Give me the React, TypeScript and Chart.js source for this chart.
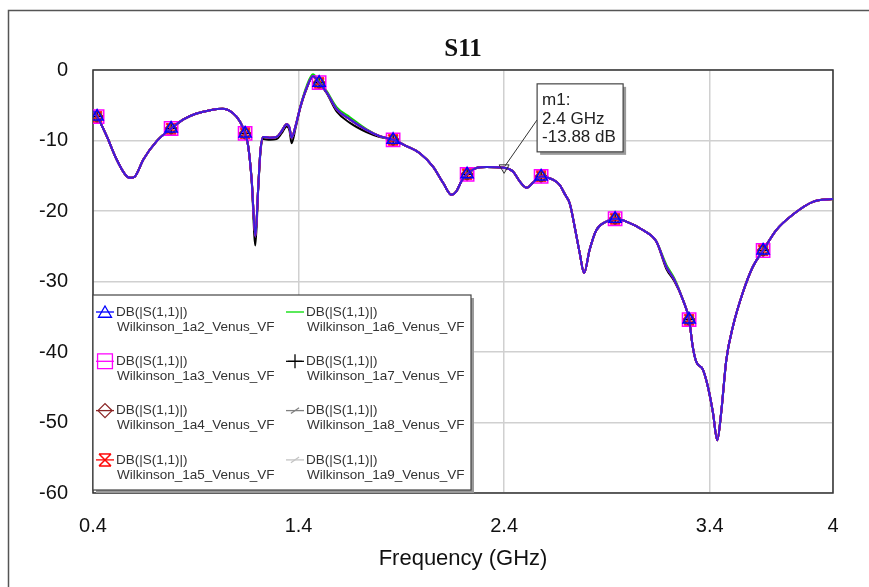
import React, { useEffect, useRef } from 'react';
import { Chart, registerables } from 'chart.js';
import { drawPoint } from 'chart.js/helpers';

Chart.register(...registerables);

// ---- data ----
const freqs = [
  0.40, 0.42, 0.467, 0.515, 0.556, 0.58, 0.604, 0.645, 0.71, 0.78,
  0.84, 0.90, 0.97, 1.03, 1.08, 1.115, 1.14, 1.155, 1.172, 1.19,
  1.204, 1.215, 1.228, 1.26, 1.293, 1.317, 1.342, 1.356, 1.366, 1.385,
  1.41, 1.44, 1.47, 1.50, 1.537, 1.586, 1.65, 1.73, 1.795, 1.86,
  1.925, 1.99, 2.054, 2.103, 2.144, 2.168, 2.192, 2.22, 2.265, 2.314,
  2.40, 2.443, 2.476, 2.51, 2.54, 2.58, 2.64, 2.67, 2.695, 2.72,
  2.743, 2.768, 2.789, 2.816, 2.849, 2.897, 2.94, 2.995, 3.075, 3.14,
  3.189, 3.229, 3.27, 3.30, 3.318, 3.335, 3.367, 3.392, 3.416, 3.437,
  3.456, 3.481, 3.513, 3.561, 3.61, 3.66, 3.724, 3.805, 3.902, 4.0,
];

const s11Main = [
  -5.8, -6.6, -9.4, -12.7, -14.8, -15.3, -15.1, -12.7, -10.1, -8.3,
  -7.0, -6.2, -5.7, -5.5, -6.1, -7.3, -9.0, -10.8, -15.6, -23.6,
  -16.5, -11.3, -9.5, -9.6, -9.5, -8.7, -7.7, -8.2, -9.6, -8.0,
  -5.1, -2.5, -0.9, -1.8, -3.2, -5.6, -7.0, -8.5, -9.4, -9.9,
  -10.8, -11.8, -13.7, -16.0, -17.7, -17.2, -15.8, -14.8, -13.9, -13.75,
  -13.88, -14.4, -15.8, -16.7, -16.0, -15.1, -15.6, -16.3, -17.6, -19.0,
  -22.2, -26.0, -28.8, -25.5, -22.7, -21.5, -21.1, -21.5, -22.7, -24.3,
  -27.9, -29.8, -32.6, -35.4, -39.3, -41.4, -42.5, -45.0, -48.6, -52.5,
  -48.6, -41.1, -36.4, -31.6, -27.9, -25.6, -22.7, -20.5, -18.7, -18.3,
];

const s11Green = [
  -5.8, -6.6, -9.4, -12.7, -14.8, -15.3, -15.1, -12.7, -10.1, -8.3,
  -7.0, -6.2, -5.7, -5.5, -6.1, -7.3, -9.0, -10.8, -15.6, -23.6,
  -16.5, -11.3, -9.5, -9.6, -9.5, -8.7, -7.7, -8.2, -9.6, -8.0,
  -5.0, -2.2, -0.6, -1.6, -3.0, -5.3, -6.7, -8.4, -9.4, -9.9,
  -10.8, -11.8, -13.7, -16.0, -17.7, -17.2, -15.8, -14.8, -13.9, -13.75,
  -13.88, -14.4, -15.8, -16.7, -16.0, -15.1, -15.6, -16.3, -17.6, -19.0,
  -22.2, -26.0, -28.8, -25.5, -22.7, -21.5, -21.1, -21.5, -22.7, -24.3,
  -27.6, -29.6, -32.6, -35.4, -39.3, -41.4, -42.5, -45.0, -48.6, -52.5,
  -48.6, -41.1, -36.4, -31.6, -27.9, -25.6, -22.7, -20.5, -18.7, -18.3,
];

const s11Black = [
  -5.8, -6.6, -9.4, -12.7, -14.8, -15.3, -15.1, -12.7, -10.1, -8.3,
  -7.0, -6.2, -5.7, -5.5, -6.1, -7.3, -9.0, -10.8, -15.8, -24.9,
  -16.8, -11.6, -9.8, -9.9, -9.8, -9.0, -8.0, -8.6, -10.4, -8.3,
  -5.2, -2.6, -0.9, -1.8, -3.3, -5.9, -7.5, -8.8, -9.5, -9.9,
  -10.8, -11.8, -13.7, -16.0, -17.7, -17.2, -15.8, -14.8, -13.9, -13.75,
  -13.88, -14.4, -15.8, -16.7, -16.0, -15.1, -15.6, -16.3, -17.6, -19.0,
  -22.2, -26.0, -28.8, -25.5, -22.7, -21.5, -21.1, -21.5, -22.7, -24.3,
  -28.2, -30.0, -32.6, -35.4, -39.3, -41.4, -42.5, -45.0, -48.6, -52.5,
  -48.6, -41.1, -36.4, -31.6, -27.9, -25.6, -22.7, -20.5, -18.7, -18.3,
];

const markerFreqs = [0.42, 0.78, 1.14, 1.5, 1.86, 2.22, 2.58, 2.94, 3.3, 3.66];
const xTickValues = [0.4, 1.4, 2.4, 3.4, 4];
const yTickValues = [0, -10, -20, -30, -40, -50, -60];

const chartTitle = 'S11';
const xAxisTitle = 'Frequency (GHz)';
const traceName = 'DB(|S(1,1)|)';
const seriesNames = [
  'Wilkinson_1a2_Venus_VF',
  'Wilkinson_1a3_Venus_VF',
  'Wilkinson_1a4_Venus_VF',
  'Wilkinson_1a5_Venus_VF',
  'Wilkinson_1a6_Venus_VF',
  'Wilkinson_1a7_Venus_VF',
  'Wilkinson_1a8_Venus_VF',
  'Wilkinson_1a9_Venus_VF',
];
const seriesValues = [s11Main, s11Main, s11Main, s11Main, s11Green, s11Black, s11Main, s11Main];

const markerName = 'm1:';
const markerFreq = [2.4];
const markerDb = [-13.88];

// ---- styles ----
const lineColors = ['#3a1fd6', '#ff00ff', '#8b2525', '#ff0000', '#00dd00', '#000000', '#777777', '#bbbbbb'];
const glyphColors = ['#0000ff', '#ff00ff', '#8b2525', '#ff0000', '#00dd00', '#000000', '#808080', '#c4c4c4'];
const glyphStyles = ['triangle', 'rect', 'rectRot', 'hourglass', 'none', 'cross', 'slash', 'slash'];

function makeHourglass(size: number, color: string) {
  const c = document.createElement('canvas');
  c.width = size;
  c.height = size;
  const g = c.getContext('2d')!;
  g.strokeStyle = color;
  g.lineWidth = 1.5;
  g.beginPath();
  g.moveTo(1, 1); g.lineTo(size - 1, 1);
  g.moveTo(1, size - 1); g.lineTo(size - 1, size - 1);
  g.moveTo(1, 1); g.lineTo(size - 1, size - 1);
  g.moveTo(size - 1, 1); g.lineTo(1, size - 1);
  g.stroke();
  return c;
}

export default function App() {
  const ref = useRef<HTMLCanvasElement | null>(null);

  useEffect(() => {
    const canvas = ref.current;
    if (!canvas) return;
    const hgPlot = makeHourglass(12, glyphColors[3]);
    const hgLegend = makeHourglass(14, glyphColors[3]);

    const plotStyle = (i: number) => {
      const s = glyphStyles[i];
      if (s === 'triangle') return { ps: 'triangle' as any, r: 7, rot: 0 };
      if (s === 'rect') return { ps: 'rect' as any, r: 9.4, rot: 0 };
      if (s === 'rectRot') return { ps: 'rectRot' as any, r: 6, rot: 0 };
      if (s === 'hourglass') return { ps: hgPlot as any, r: 6, rot: 0 };
      if (s === 'cross') return { ps: 'cross' as any, r: 6, rot: 0 };
      if (s === 'slash') return { ps: 'line' as any, r: 6, rot: -35 };
      return { ps: 'circle' as any, r: 0, rot: 0 };
    };

    const datasets = seriesNames.map((name, i) => {
      const vals = seriesValues[i];
      const st = plotStyle(i);
      return {
        label: name,
        data: freqs.map((f, k) => ({ x: f, y: vals[k] })),
        borderColor: lineColors[i],
        borderWidth: 2,
        pointStyle: st.ps,
        pointRotation: st.rot,
        pointRadius: (c: any) => (st.r > 0 && markerFreqs.includes(freqs[c.dataIndex]) ? st.r : 0),
        pointHoverRadius: 0,
        pointBorderColor: glyphColors[i],
        pointBackgroundColor: 'rgba(0,0,0,0)',
        pointBorderWidth: 1.5,
        cubicInterpolationMode: 'monotone' as const,
        tension: 0.4,
        fill: false,
      };
    });

    const decor = {
      id: 'decor',
      beforeDraw(chart: any) {
        const ctx = chart.ctx;
        ctx.save();
        ctx.strokeStyle = '#555';
        ctx.lineWidth = 1.5;
        ctx.beginPath();
        ctx.moveTo(8.5, 600);
        ctx.lineTo(8.5, 10.5);
        ctx.lineTo(900, 10.5);
        ctx.stroke();
        ctx.restore();
      },
      beforeDatasetsDraw(chart: any) {
        const { ctx, chartArea: ca } = chart;
        ctx.save();
        ctx.strokeStyle = '#333';
        ctx.lineWidth = 1.5;
        ctx.strokeRect(ca.left, ca.top, ca.right - ca.left, ca.bottom - ca.top);
        ctx.restore();
      },
      afterDatasetsDraw(chart: any) {
        const { ctx, chartArea: ca, scales } = chart;
        ctx.save();
        // ---- legend box ----
        const bx = ca.left;
        const bw = 378;
        const bh = 195;
        const by = ca.bottom - 198;
        ctx.fillStyle = '#9a9a9a';
        ctx.fillRect(bx + 3, by + 3, bw, bh);
        ctx.fillStyle = '#fff';
        ctx.fillRect(bx, by, bw, bh);
        ctx.strokeStyle = '#444';
        ctx.lineWidth = 1.2;
        ctx.strokeRect(bx, by, bw, bh);

        ctx.font = '13.5px "Liberation Sans", Arial, sans-serif';
        ctx.textBaseline = 'middle';
        ctx.textAlign = 'left';
        seriesNames.forEach((name, i) => {
          const col = i < 4 ? 0 : 1;
          const row = i % 4;
          const gx = bx + 12 + col * 190;
          const gy = by + 17 + row * 49.3;
          const tx = bx + 23 + col * 190;
          const color = glyphColors[i];
          // line segment
          ctx.strokeStyle = color;
          ctx.lineWidth = 1.3;
          ctx.beginPath();
          ctx.moveTo(gx - 9, gy);
          ctx.lineTo(gx + 9, gy);
          ctx.stroke();
          const s = glyphStyles[i];
          ctx.fillStyle = 'rgba(0,0,0,0)';
          ctx.strokeStyle = color;
          ctx.lineWidth = 1.3;
          if (s === 'triangle') drawPoint(ctx, { pointStyle: 'triangle', radius: 7.5, rotation: 0, borderWidth: 1 } as any, gx, gy + 1.5);
          if (s === 'rect') drawPoint(ctx, { pointStyle: 'rect', radius: 10.5, rotation: 0, borderWidth: 1 } as any, gx, gy);
          if (s === 'rectRot') drawPoint(ctx, { pointStyle: 'rectRot', radius: 7, rotation: 0, borderWidth: 1 } as any, gx, gy);
          if (s === 'hourglass') drawPoint(ctx, { pointStyle: hgLegend, radius: 7, rotation: 0, borderWidth: 1 } as any, gx, gy);
          if (s === 'cross') drawPoint(ctx, { pointStyle: 'cross', radius: 7, rotation: 0, borderWidth: 1 } as any, gx, gy);
          if (s === 'slash') drawPoint(ctx, { pointStyle: 'line', radius: 5, rotation: -35, borderWidth: 1 } as any, gx, gy);
          ctx.fillStyle = '#333';
          ctx.fillText(traceName, tx, gy);
          ctx.fillText(name, tx + 1, gy + 15);
        });

        // ---- marker m1 ----
        const px = scales.x.getPixelForValue(markerFreq[0]);
        const py = scales.y.getPixelForValue(markerDb[0]);
        const mx = px + 33;
        const my = py - 84;
        const mw = 86;
        const mh = 68;
        ctx.strokeStyle = '#333';
        ctx.lineWidth = 1;
        ctx.beginPath();
        ctx.moveTo(px + 1, py - 2);
        ctx.lineTo(mx, my + 36);
        ctx.stroke();
        ctx.beginPath();
        ctx.moveTo(px - 5, py - 3);
        ctx.lineTo(px + 5, py - 3);
        ctx.lineTo(px, py + 5.5);
        ctx.closePath();
        ctx.stroke();
        ctx.fillStyle = '#9a9a9a';
        ctx.fillRect(mx + 3, my + 3, mw, mh);
        ctx.fillStyle = '#fff';
        ctx.fillRect(mx, my, mw, mh);
        ctx.strokeStyle = '#444';
        ctx.lineWidth = 1.2;
        ctx.strokeRect(mx, my, mw, mh);
        ctx.fillStyle = '#222';
        ctx.font = '17px "Liberation Sans", Arial, sans-serif';
        ctx.textBaseline = 'middle';
        ctx.fillText(markerName, mx + 5, my + 16);
        ctx.fillText(`${markerFreq[0]} GHz`, mx + 5, my + 35);
        ctx.fillText(`${markerDb[0].toFixed(2)} dB`, mx + 5, my + 53);
        ctx.restore();
      },
    };

    const chart = new Chart(canvas, {
      type: 'line',
      data: { datasets: datasets as any },
      plugins: [decor],
      options: {
        responsive: false,
        animation: false,
        events: [],
        layout: { padding: { left: 0, right: 36, top: 0, bottom: 0 } },
        plugins: {
          legend: { display: false },
          tooltip: { enabled: false },
          title: {
            display: true,
            text: chartTitle,
            fullSize: false,
            color: '#111',
            font: { family: '"Liberation Serif", "Times New Roman", serif', size: 25, weight: 'bold' },
            padding: { top: 35, bottom: 5 },
          },
        },
        scales: {
          x: {
            type: 'linear',
            min: 0.4,
            max: 4,
            afterBuildTicks: (s: any) => { s.ticks = xTickValues.map((v) => ({ value: v })); },
            afterFit: (s: any) => { s.height = 94; },
            grid: { color: '#d0d0d0', lineWidth: 1.5, drawTicks: false },
            border: { display: false },
            ticks: {
              color: '#111',
              padding: 21,
              maxRotation: 0,
              autoSkip: false,
              font: { family: '"Liberation Sans", Arial, sans-serif', size: 20 },
              callback: (v: any) => String(v),
            },
            title: {
              display: true,
              text: xAxisTitle,
              color: '#111',
              font: { family: '"Liberation Sans", Arial, sans-serif', size: 22 },
              padding: { top: 0, bottom: 15 },
            },
          },
          y: {
            type: 'linear',
            min: -60,
            max: 0,
            afterBuildTicks: (s: any) => { s.ticks = yTickValues.map((v) => ({ value: v })); },
            afterFit: (s: any) => { s.width = 93; },
            grid: { color: '#d0d0d0', lineWidth: 1.5, drawTicks: false },
            border: { display: false },
            ticks: {
              color: '#111',
              padding: 25,
              autoSkip: false,
              font: { family: '"Liberation Sans", Arial, sans-serif', size: 20 },
              callback: (v: any) => String(v),
            },
          },
        },
      },
    });
    return () => chart.destroy();
  }, []);

  return (
    <div style={{ position: 'fixed', left: 0, top: 0, width: 869, height: 587, background: '#fff' }}>
      <canvas ref={ref} width={869} height={587} style={{ display: 'block', width: 869, height: 587 }} />
    </div>
  );
}
